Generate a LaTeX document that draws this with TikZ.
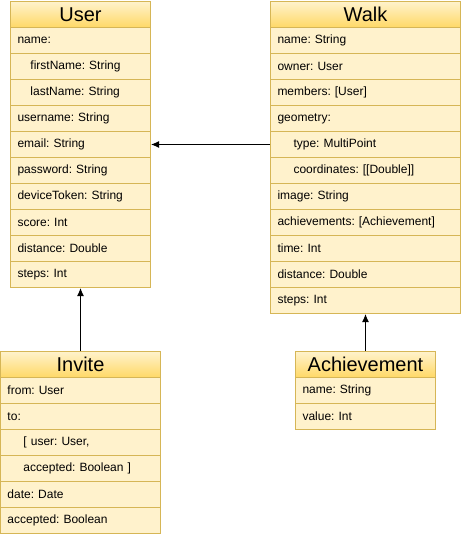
\documentclass[tikz,border=0pt]{standalone}
\usepackage{fontspec}
\setmainfont{Liberation Sans}
\usetikzlibrary{arrows.meta}
\definecolor{umlfill}{HTML}{FFF2CC}
\definecolor{umlgrad}{HTML}{FFD966}
\definecolor{umlline}{HTML}{D6B656}
\frenchspacing
\begin{document}
\begin{tikzpicture}[x=1pt, y=-1pt, line width=1pt,
	title/.style={draw=umlline, top color=umlfill, bottom color=umlgrad, minimum height=26pt, inner sep=0pt, anchor=north west, font=\fontsize{20}{24}\selectfont},
	field/.style={draw=umlline, fill=umlfill, minimum height=26pt, inner xsep=7pt, inner ysep=0pt, align=left, anchor=north west, font=\fontsize{12}{14}\selectfont}]
	\useasboundingbox (0,0) rectangle (461,536);
	\node[title, minimum width=140pt] (user) at (10,1) {User};
	\foreach \f [count=\i] in {name:, \hspace*{13pt}firstName: String, \hspace*{13pt}lastName: String, username: String, email: String, password: String, deviceToken: String, score: Int, distance: Double, steps: Int}
		\node[field, text width=126pt] (user-\i) at (10,1+26*\i) {\f};
	\node[title, minimum width=190pt] (walk) at (270,1) {Walk};
	\foreach \f [count=\i] in {name: String, owner: User, members: [User], geometry:, \hspace*{16pt}type: MultiPoint, \hspace*{16pt}coordinates: [[Double]], image: String, achievements: [Achievement], time: Int, distance: Double, steps: Int}
		\node[field, text width=176pt] (walk-\i) at (270,1+26*\i) {\f};
	\node[title, minimum width=160pt] (invite) at (0,351) {Invite};
	\foreach \f [count=\i] in {from: User, to:, {\hspace*{16pt}[ user: User,}, \hspace*{16pt}accepted: Boolean ], date: Date, accepted: Boolean}
		\node[field, text width=146pt] (invite-\i) at (0,351+26*\i) {\f};
	\node[title, minimum width=140pt] (achievement) at (295,351) {Achievement};
	\foreach \f [count=\i] in {name: String, value: Int}
		\node[field, text width=126pt] (achievement-\i) at (295,351+26*\i) {\f};
	\draw[-{Latex[length=8pt,width=7pt]}] (walk-5.west) -- (user-5.east);
	\draw[-{Latex[length=8pt,width=7pt]}] (invite.north) -- (user-10.south);
	\draw[-{Latex[length=8pt,width=7pt]}] (achievement.north) -- (walk-11.south);
\end{tikzpicture}
\end{document}
